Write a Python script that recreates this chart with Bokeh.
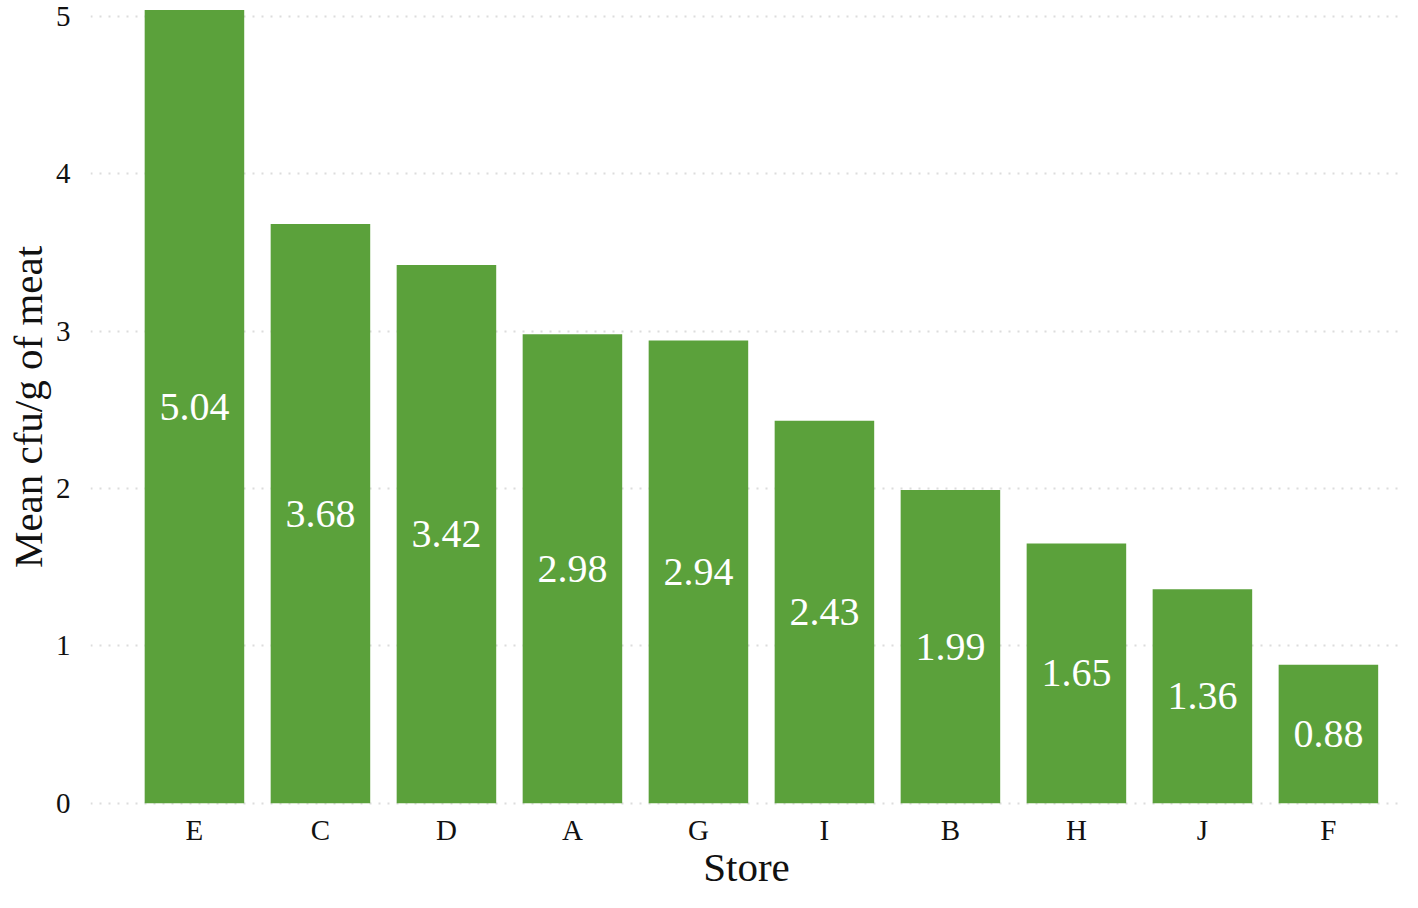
from bokeh.plotting import figure
from bokeh.models import Range1d, FixedTicker, ColumnDataSource
from bokeh.core.properties import value
from bokeh.embed import file_html
from bokeh.resources import INLINE

stores = ["E", "C", "D", "A", "G", "I", "B", "H", "J", "F"]
means = [5.04, 3.68, 3.42, 2.98, 2.94, 2.43, 1.99, 1.65, 1.36, 0.88]
y_ticks = [0, 1, 2, 3, 4, 5]

xs = list(range(1, len(stores) + 1))
src = ColumnDataSource(dict(
    x=xs,
    top=means,
    mid=[m / 2 for m in means],
    lab=[f"{m:.2f}" for m in means],
))

FONT = "Liberation Serif"
GREEN = "#5BA13B"
DARK = "#111111"

p = figure(width=1402, height=892, output_backend="svg", toolbar_location=None,
           x_range=Range1d(0.175, 10.588), y_range=Range1d(-0.015, 5.05),
           min_border_left=90, min_border_right=0, min_border_top=8,
           min_border_bottom=60)
p.outline_line_color = None
p.background_fill_color = "white"
p.border_fill_color = "white"

p.vbar(x="x", top="top", bottom=0, width=0.79, source=src,
       fill_color=GREEN, line_color=None)
p.text(x="x", y="mid", text="lab", source=src, text_color="white",
       text_align="center", text_baseline="middle",
       text_font=value(FONT), text_font_size="40px")

p.xgrid.grid_line_color = None
p.ygrid.grid_line_color = "#dcdcdc"
p.ygrid.grid_line_dash = "2 7"
p.ygrid.grid_line_width = 2

p.xaxis.ticker = FixedTicker(ticks=xs)
p.xaxis.major_label_overrides = {x: s for x, s in zip(xs, stores)}
p.yaxis.ticker = FixedTicker(ticks=y_ticks)

for ax in (p.xaxis[0], p.yaxis[0]):
    ax.axis_line_color = None
    ax.major_tick_line_color = None
    ax.minor_tick_line_color = None
    ax.major_label_text_font = FONT
    ax.major_label_text_font_size = "29px"
    ax.major_label_text_color = DARK
    ax.axis_label_text_font = FONT
    ax.axis_label_text_font_size = "41px"
    ax.axis_label_text_font_style = "normal"
    ax.axis_label_text_color = DARK

p.xaxis.axis_label = "Store"
p.yaxis.axis_label = "Mean cfu/g of meat"
p.xaxis.major_label_standoff = 2
p.xaxis.axis_label_standoff = -5
p.yaxis.major_label_standoff = 14
p.yaxis.axis_label_standoff = 2

open("out.html", "w").write(file_html(p, INLINE))
